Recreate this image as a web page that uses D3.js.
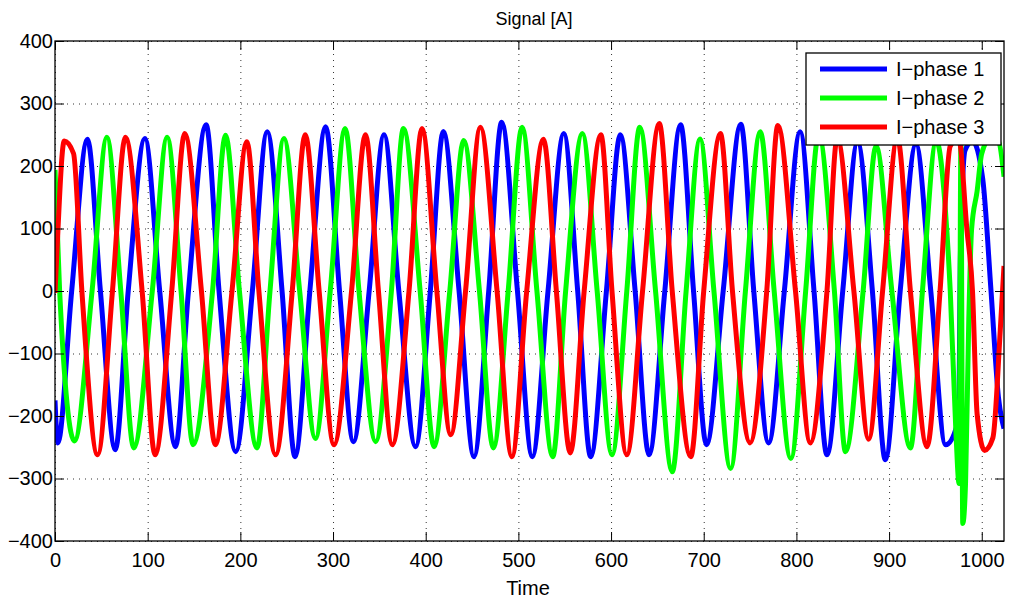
<!DOCTYPE html>
<html>
<head>
<meta charset="utf-8">
<script src="https://cdn.jsdelivr.net/npm/d3@7"></script>
<style>
body { margin: 0; background: #fff; }
text { font-family: "Liberation Sans", Arial, sans-serif; }
</style>
</head>
<body>
<div id="box"></div>
<script>

// key points [time, value] (peaks, troughs, zero crossings)
var phase1 = [[0,-175],[3,-243],[18,0],[35,243],[49,0],[65,-254],[79,0],[97,244],[113,0],[130,-249],
  [144,0],[163,266],[177,0],[195,-257],[213,0],[229,255],[245,0],[259,-265],[275,0],[292,263],
  [307,0],[322,-241],[339,0],[355,250],[371,0],[389,-249],[405,0],[419,255],[436,0],[452,-265],
  [468,0],[482,270],[499,0],[515,-265],[532,0],[549,252],[564,0],[578,-265],[595,0],[610,250],
  [626,0],[641,-262],[658,0],[675,266],[689,0],[703,-246],[721,0],[740,267],[754,0],[770,-243],
  [787,0],[804,255],[819,0],[833,-262],[850,0],[866,238],[882,0],[896,-270],[912,0],[929,235],
  [945,0],[961,-246],[975,-206],[977,60],[982,225],[990,240],[1001,180],[1010,0],[1018,-170],[1024,-220]];

var phase2 = [[0,194],[5,0],[21,-240],[40,0],[56,246],[71,0],[85,-251],[105,0],[121,246],[136,0],
  [149,-246],[170,0],[184,249],[199,0],[218,-251],[232,0],[247,244],[264,0],[281,-236],[297,0],
  [313,260],[328,0],[346,-241],[363,0],[376,260],[394,0],[409,-249],[426,0],[441,241],[458,0],
  [473,-251],[489,0],[504,262],[520,0],[537,-265],[551,0],[569,252],[585,0],[601,-262],[617,0],
  [631,262],[648,0],[666,-289],[681,0],[696,243],[711,0],[729,-284],[745,0],[761,255],[776,0],
  [794,-268],[810,0],[824,250],[841,0],[853,-257],[872,0],[886,232],[903,0],[923,-251],[936,0],
  [951,240],[961,125],[966,0],[972,-222],[975.5,-308],[977.5,235],[979.5,-372],[982.5,-308],[986,-46],
  [989,98],[995,160],[1000,220],[1010,246],[1018,240],[1024,183]];

var phase3 = [[0,-3],[2,61],[10,240],[20,220],[29,0],[46,-262],[62,0],[76,246],[94,0],[108,-262],
  [126,0],[140,252],[158,0],[173,-246],[191,0],[207,239],[220,0],[238,-262],[256,0],[270,250],
  [285,0],[301,-246],[320,0],[335,250],[349,0],[364,-246],[382,0],[396,260],[412,0],[427,-230],
  [443,0],[459,262],[477,0],[493,-265],[509,0],[527,243],[541,0],[556,-259],[571,0],[589,250],
  [601,0],[617,-262],[634,0],[652,268],[666,0],[686,-265],[700,0],[718,252],[731,0],[750,-243],
  [768,0],[780,265],[799,0],[815,-243],[833,0],[844,245],[862,0],[878,-237],[893,0],[909,245],
  [923,0],[941,-249],[955,0],[966,232],[975,245],[984,98],[990,0],[995,-197],[1003,-255],
  [1012,-235],[1020,-62],[1024,40]];

var seriesNames = ["I\u2212phase 1", "I\u2212phase 2", "I\u2212phase 3"];
var seriesColors = ["#0000ff", "#00ff00", "#ff0000"];
var xTicks = [0, 100, 200, 300, 400, 500, 600, 700, 800, 900, 1000];
var yTicks = [-400, -300, -200, -100, 0, 100, 200, 300, 400];

var w = 1011,
    h = 603;
var pLeft = 55, pRight = 1004, pTop = 41, pBottom = 541;

var svg = d3.select("#box")
            .append("svg")
            .attr("width", w)
            .attr("height", h);

var x = d3.scaleLinear().domain([0, 1024]).range([pLeft, pRight]);
var y = d3.scaleLinear().domain([-400, 400]).range([pBottom, pTop]);
var fmt = d3.format("d");

// dotted grid
svg.append("g")
   .attr("class", "grid")
   .attr("transform", "translate(0," + pBottom + ")")
   .call(d3.axisBottom(x).tickValues(xTicks).tickSize(-(pBottom - pTop)).tickFormat(""));

svg.append("g")
   .attr("class", "grid")
   .attr("transform", "translate(" + pLeft + ",0)")
   .call(d3.axisLeft(y).tickValues(yTicks).tickSize(-(pRight - pLeft)).tickFormat(""));

svg.selectAll(".grid .domain").remove();
svg.selectAll(".grid line")
   .attr("stroke", "#333")
   .attr("stroke-dasharray", "1,5");

svg.append("clipPath")
   .attr("id", "plotclip")
   .append("rect")
   .attr("x", pLeft)
   .attr("y", pTop)
   .attr("width", pRight - pLeft)
   .attr("height", pBottom - pTop);

var line = d3.line()
             .x(function(d) { return x(d[0]); })
             .y(function(d) { return y(d[1]); })
             .curve(d3.curveMonotoneX);

svg.append("g")
   .attr("clip-path", "url(#plotclip)")
   .selectAll("path")
   .data([phase1, phase2, phase3])
   .enter()
   .append("path")
   .attr("d", line)
   .attr("fill", "none")
   .attr("stroke", function(d, i) { return seriesColors[i]; })
   .attr("stroke-width", 5)
   .attr("stroke-linejoin", "round");

// axes with inward ticks on all four sides
svg.append("g")
   .attr("class", "axis")
   .attr("transform", "translate(0," + pBottom + ")")
   .call(d3.axisBottom(x).tickValues(xTicks).tickFormat(fmt).tickSizeInner(-9).tickSizeOuter(0).tickPadding(12));

svg.append("g")
   .attr("class", "axis")
   .attr("transform", "translate(" + pLeft + ",0)")
   .call(d3.axisLeft(y).tickValues(yTicks).tickFormat(fmt).tickSizeInner(-9).tickSizeOuter(0).tickPadding(2));

svg.append("g")
   .attr("class", "axis")
   .attr("transform", "translate(0," + pTop + ")")
   .call(d3.axisTop(x).tickValues(xTicks).tickSizeInner(-9).tickSizeOuter(0).tickFormat(""));

svg.append("g")
   .attr("class", "axis")
   .attr("transform", "translate(" + pRight + ",0)")
   .call(d3.axisRight(y).tickValues(yTicks).tickSizeInner(-9).tickSizeOuter(0).tickFormat(""));

svg.selectAll(".axis .domain").remove();
svg.selectAll(".axis line").attr("stroke", "#000");
svg.selectAll(".axis text")
   .attr("font-size", "20px")
   .attr("font-family", "Liberation Sans, Arial, sans-serif")
   .attr("fill", "#000");

svg.append("rect")
   .attr("x", pLeft)
   .attr("y", pTop)
   .attr("width", pRight - pLeft)
   .attr("height", pBottom - pTop)
   .attr("fill", "none")
   .attr("stroke", "#000")
   .attr("stroke-width", 1.3);

svg.append("text")
   .text("Signal [A]")
   .attr("x", 534)
   .attr("y", 25)
   .attr("text-anchor", "middle")
   .attr("font-size", "18px");

svg.append("text")
   .text("Time")
   .attr("x", 528)
   .attr("y", 595)
   .attr("text-anchor", "middle")
   .attr("font-size", "20px");

// legend
var legend = svg.append("g");
legend.append("rect")
      .attr("x", 806)
      .attr("y", 53)
      .attr("width", 195)
      .attr("height", 92)
      .attr("fill", "#fff")
      .attr("stroke", "#000")
      .attr("stroke-width", 1.3);

legend.selectAll("line")
      .data(seriesNames)
      .enter()
      .append("line")
      .attr("x1", 820)
      .attr("x2", 887)
      .attr("y1", function(d, i) { return 69 + i * 29; })
      .attr("y2", function(d, i) { return 69 + i * 29; })
      .attr("stroke", function(d, i) { return seriesColors[i]; })
      .attr("stroke-width", 5);

legend.selectAll("text")
      .data(seriesNames)
      .enter()
      .append("text")
      .text(function(d) { return d; })
      .attr("x", 896)
      .attr("y", function(d, i) { return 76 + i * 29; })
      .attr("font-size", "20px")
      .attr("fill", "#000");

</script>
</body>
</html>
